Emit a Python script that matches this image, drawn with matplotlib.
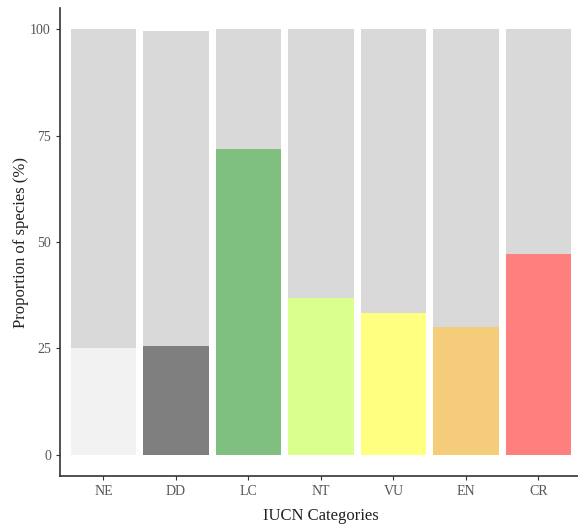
import numpy as np
import matplotlib
matplotlib.use("Agg")
import matplotlib.pyplot as plt

categories = ["NE", "DD", "LC", "NT", "VU", "EN", "CR"]
totals = [100, 99.5, 100, 100, 100, 100, 100]
proportions = [25, 25.6, 71.8, 36.9, 33.3, 30.0, 47.2]
colors = ["#f2f2f2", "#7f7f7f", "#7fbf7f", "#d9ff8c", "#ffff80", "#f5cd7a", "#ff7f7f"]
yticks = [0, 25, 50, 75, 100]

plt.rcParams["font.family"] = ["Liberation Serif", "DejaVu Serif"]

fig = plt.figure(figsize=(5.78, 5.24), dpi=100)
W, H = 578, 524
ax = fig.add_axes([60 / W, (H - 476) / H, 522 / W, 468 / H])

x = np.arange(1, len(categories) + 1)
ax.bar(x, totals, width=0.9, color="#d9d9d9", zorder=1)
ax.bar(x, proportions, width=0.9, color=colors, zorder=2)

ax.set_xlim(0.4, 7.6)
ax.set_ylim(-5, 105)
ax.set_xticks(x)
ax.set_xticklabels(categories)
ax.set_yticks(yticks)
ax.set_yticklabels([str(t) for t in yticks])
ax.tick_params(colors="#333333", labelcolor="#555555", labelsize=10, length=3, width=0.8)

for side in ["top", "right"]:
    ax.spines[side].set_visible(False)
for side in ["left", "bottom"]:
    ax.spines[side].set_color("#333333")
    ax.spines[side].set_linewidth(1.2)

ax.set_xlabel("IUCN Categories", fontsize=12, color="#222222", labelpad=7)
ax.set_ylabel("Proportion of species (%)", fontsize=12, color="#222222", labelpad=1)

fig.savefig("out.png", dpi=100)
